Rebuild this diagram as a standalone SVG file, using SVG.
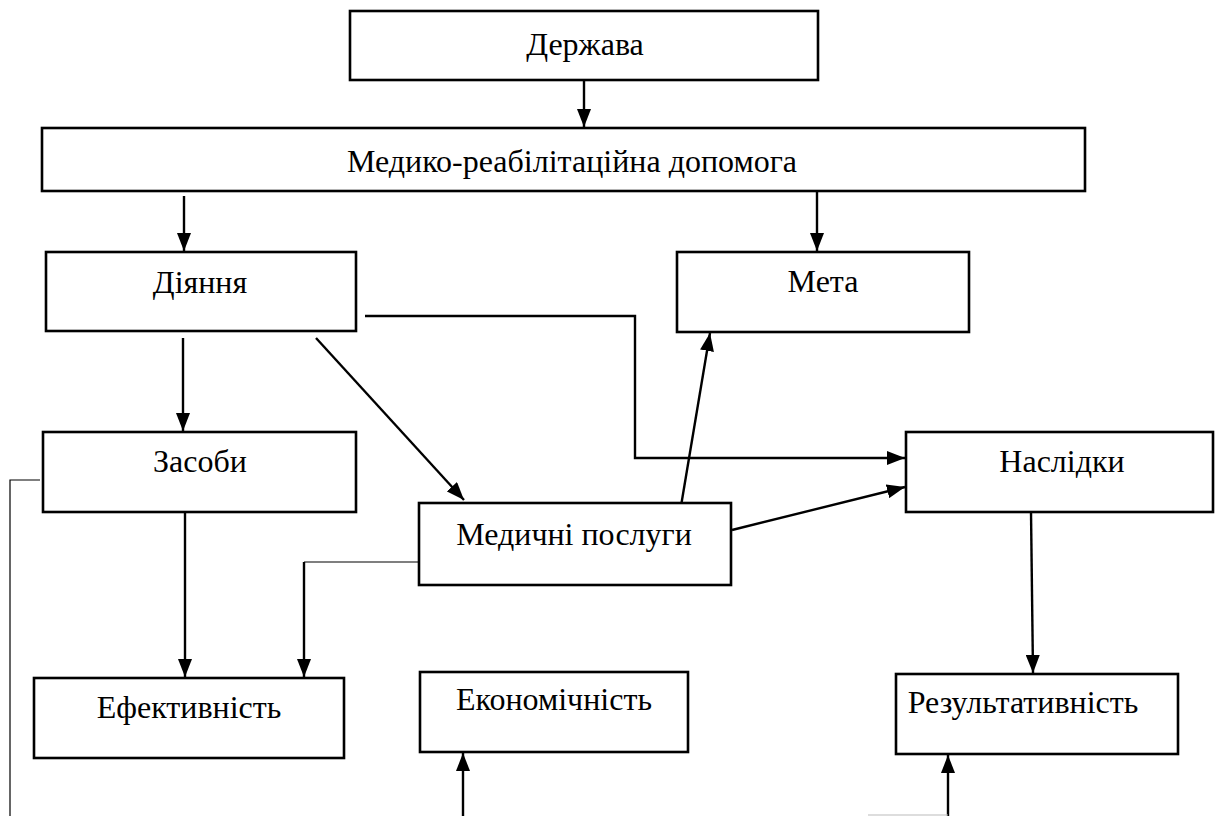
<svg xmlns="http://www.w3.org/2000/svg" width="1216" height="816" viewBox="0 0 1216 816">
<style>
.box{fill:#fff;stroke:#000;stroke-width:2.6}
.lbl{font-family:"Liberation Serif","Times New Roman",serif;font-size:32px;fill:#000;text-anchor:middle}
.c{fill:none;stroke:#000;stroke-width:2.4}
.t{fill:none;stroke:#000;stroke-width:1.2}
</style>
<defs>
<marker id="ah" viewBox="0 0 18 14" refX="18" refY="7" markerWidth="18" markerHeight="14" markerUnits="userSpaceOnUse" orient="auto">
<path d="M0,0 L18,7 L0,14 z" fill="#000"/>
</marker>
</defs>
<rect width="1216" height="816" fill="#fff"/>
<g id="connectors">
<line class="c" x1="584" y1="80" x2="584" y2="127" marker-end="url(#ah)"/>
<line class="c" x1="184" y1="196" x2="184" y2="251" marker-end="url(#ah)"/>
<line class="c" x1="817" y1="192" x2="817" y2="251" marker-end="url(#ah)"/>
<line class="c" x1="183" y1="338" x2="183" y2="431" marker-end="url(#ah)"/>
<line class="c" x1="316" y1="338" x2="464" y2="500" marker-end="url(#ah)"/>
<polyline class="c" points="365,316 635,316 635,458 905,458" marker-end="url(#ah)"/>
<line class="c" x1="681" y1="506" x2="710" y2="333" marker-end="url(#ah)"/>
<line class="c" x1="732" y1="530" x2="905" y2="487" marker-end="url(#ah)"/>
<line class="c" x1="185" y1="512" x2="185" y2="677" marker-end="url(#ah)"/>
<line class="t" x1="419" y1="562" x2="304" y2="562"/>
<line class="c" x1="304" y1="562" x2="304" y2="677" marker-end="url(#ah)"/>
<line class="c" x1="1031" y1="512" x2="1033" y2="673" marker-end="url(#ah)"/>
<polyline class="t" points="40,480 10,480 10,816"/>
<line class="c" x1="463" y1="816" x2="463" y2="753" marker-end="url(#ah)"/>
<line class="c" x1="948" y1="816" x2="948" y2="755" marker-end="url(#ah)"/>
<line x1="868" y1="815" x2="948" y2="815" stroke="#bbb" stroke-width="1.2"/>
</g>
<g id="n-derzhava"><rect class="box" x="350" y="11" width="468" height="69"/><text class="lbl" x="585" y="55">Держава</text></g>
<g id="n-medyko"><rect class="box" x="42" y="128" width="1043" height="63"/><text class="lbl" x="572" y="172">Медико-реабілітаційна допомога</text></g>
<g id="n-diyannya"><rect class="box" x="46" y="252" width="310" height="79"/><text class="lbl" x="200" y="293">Діяння</text></g>
<g id="n-meta"><rect class="box" x="677" y="252" width="292" height="80"/><text class="lbl" x="823" y="292">Мета</text></g>
<g id="n-zasoby"><rect class="box" x="43" y="432" width="313" height="80"/><text class="lbl" x="200" y="472">Засоби</text></g>
<g id="n-naslidky"><rect class="box" x="906" y="432" width="307" height="80"/><text class="lbl" x="1062" y="472">Наслідки</text></g>
<g id="n-poslugy"><rect class="box" x="419" y="503" width="312" height="82"/><text class="lbl" x="574" y="545">Медичні послуги</text></g>
<g id="n-efektyvnist"><rect class="box" x="34" y="678" width="310" height="80"/><text class="lbl" x="189" y="718">Ефективність</text></g>
<g id="n-ekonomichnist"><rect class="box" x="420" y="672" width="268" height="80"/><text class="lbl" x="554" y="710">Економічність</text></g>
<g id="n-rezultatyvnist"><rect class="box" x="896" y="674" width="282" height="80"/><text class="lbl" x="1023" y="713">Результативність</text></g>
</svg>
